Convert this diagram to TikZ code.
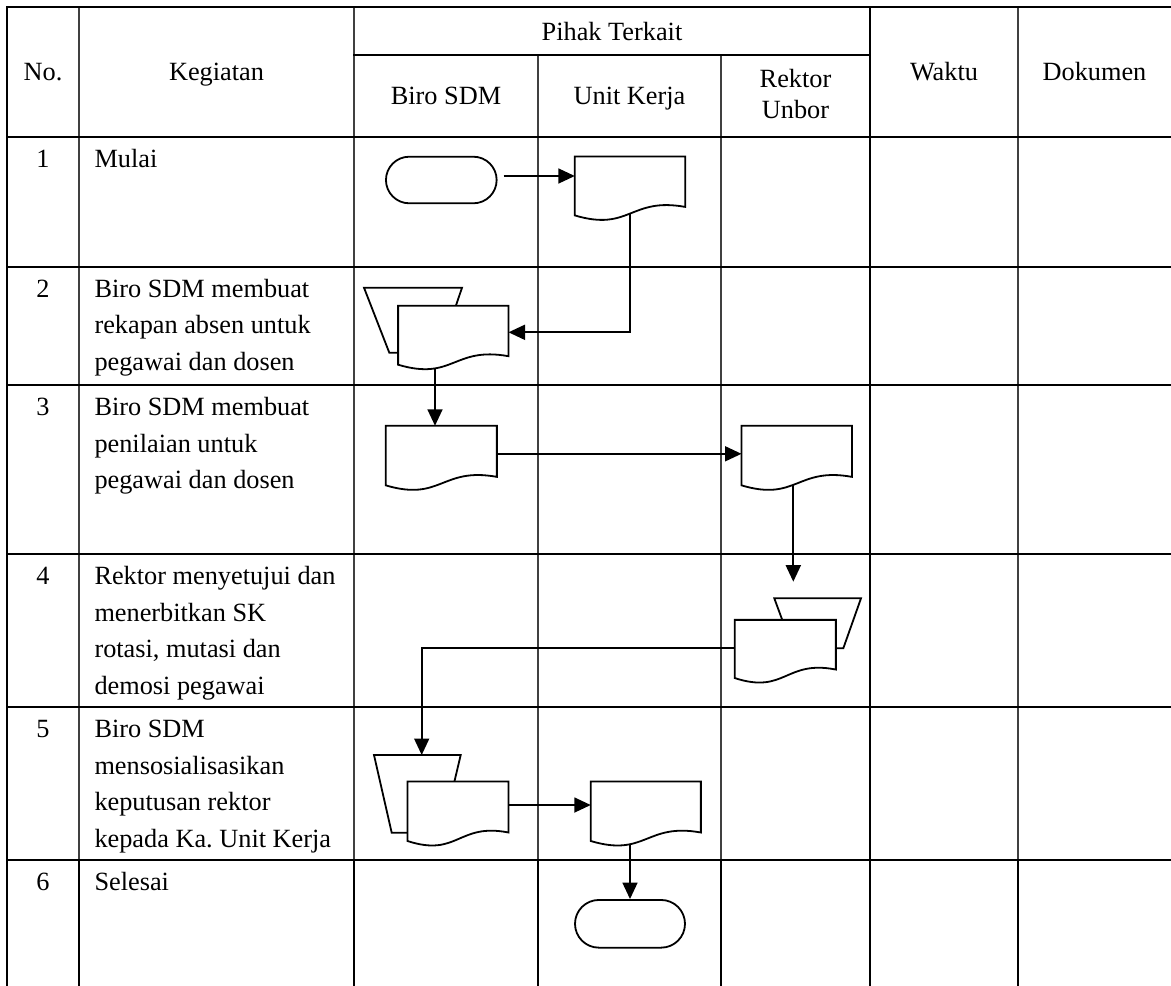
\documentclass[tikz,border=0pt]{standalone}
\usepackage{fontspec}
\setmainfont{Liberation Serif}
\usetikzlibrary{arrows.meta,shapes.misc,calc}
\frenchspacing
\tikzset{
  hline/.style={line width=2.2pt, black, line cap=rect},
  vthin/.style={line width=1.3pt, black!75},
  vthick/.style={line width=2.2pt, black, line cap=rect},
  txt/.style={font=\fontsize{26.3}{31.6}\selectfont, inner sep=0pt, anchor=base west},
  ctxt/.style={font=\fontsize{26.3}{31.6}\selectfont, inner sep=0pt, anchor=base},
  term/.style={rounded rectangle, draw, fill=white, line width=1.8pt, inner sep=0pt},
  docnode/.style={rectangle, inner sep=0pt, draw=none},
  shp/.style={draw, fill=white, line width=1.8pt, line join=miter},
  arr/.style={line width=1.8pt, -{Triangle[length=16.5pt,width=15pt]}},
}
\newcommand{\docshape}[1]{%
  \draw[shp] (#1.north west) -- (#1.north east) -- (#1.south east)
    .. controls ($(#1.south)+(0,-10)$) and ($(#1.south)+(0,25)$) ..
    ($(#1.south west)+(0,8.5)$) -- cycle;}
\begin{document}
\begin{tikzpicture}[x=1pt,y=-1pt]
\useasboundingbox (0,0) rectangle (1171,986);
% ---------- table grid ----------
\foreach \x in {79,354,1018} \draw[vthin] (\x,7.3) -- (\x,860);
\foreach \x in {538,721} \draw[vthin] (\x,55) -- (\x,860);
\foreach \x in {79,354,538,721,1018} \draw[vthick] (\x,860) -- (\x,986);
\draw[vthick] (7,7.3) -- (7,986);
\draw[vthick] (870,7.3) -- (870,986);
\foreach \y in {7.3,137,266.7,385,554,707,860} \draw[hline] (7,\y) -- (1171,\y);
\draw[hline] (354,55) -- (870,55);
% ---------- header ----------
\node[ctxt] (hno) at (43,80.5) {No.};
\node[ctxt] (hkeg) at (216.5,80.5) {Kegiatan};
\node[ctxt] (hpihak) at (612,40) {Pihak Terkait};
\node[ctxt] (hbiro) at (446,104) {Biro SDM};
\node[ctxt] (hunit) at (629.5,104) {Unit Kerja};
\node[ctxt] (hrek) at (795.5,87.5) {Rektor};
\node[ctxt] (hunb) at (795.5,118.5) {Unbor};
\node[ctxt] (hwak) at (944,80.5) {Waktu};
\node[ctxt] (hdok) at (1094.5,80.5) {Dokumen};
% ---------- rows ----------
\node[ctxt] (n1) at (43,167.5) {1};
\node[txt] (k1a) at (94.3,167.5) {Mulai};
\node[ctxt] (n2) at (43,297.2) {2};
\node[txt] (k2a) at (94.3,297.2) {Biro SDM membuat};
\node[txt] (k2b) at (94.3,333.9) {rekapan absen untuk};
\node[txt] (k2c) at (94.3,370.6) {pegawai dan dosen};
\node[ctxt] (n3) at (43,415.5) {3};
\node[txt] (k3a) at (94.3,415.5) {Biro SDM membuat};
\node[txt] (k3b) at (94.3,452.2) {penilaian untuk};
\node[txt] (k3c) at (94.3,488.9) {pegawai dan dosen};
\node[ctxt] (n4) at (43,584.5) {4};
\node[txt] (k4a) at (94.3,584.5) {Rektor menyetujui dan};
\node[txt] (k4b) at (94.3,621.2) {menerbitkan SK};
\node[txt] (k4c) at (94.3,657.9) {rotasi, mutasi dan};
\node[txt] (k4d) at (94.3,694.6) {demosi pegawai};
\node[ctxt] (n5) at (43,737.5) {5};
\node[txt] (k5a) at (94.3,737.5) {Biro SDM};
\node[txt] (k5b) at (94.3,774.2) {mensosialisasikan};
\node[txt] (k5c) at (94.3,810.9) {keputusan rektor};
\node[txt] (k5d) at (94.3,847.6) {kepada Ka. Unit Kerja};
\node[ctxt] (n6) at (43,890.5) {6};
\node[txt] (k6a) at (94.3,890.5) {Selesai};
% ---------- flowchart nodes (positions) ----------
\node[term, minimum width=110.7pt, minimum height=46.6pt] (s1) at (441.3,180) {};
\node[term, minimum width=110pt, minimum height=47.7pt] (e1) at (630,923.8) {};
\node[docnode, minimum width=110pt, minimum height=50pt] (d1) at (630,181.7) {};
\node[docnode, minimum width=110pt, minimum height=50pt] (d2) at (453.3,331) {};
\node[docnode, minimum width=110.7pt, minimum height=50.7pt] (d3) at (441.3,451.3) {};
\node[docnode, minimum width=110pt, minimum height=50.7pt] (d4) at (796.7,451.3) {};
\node[docnode, minimum width=100.7pt, minimum height=49.3pt] (d5) at (785.3,644.7) {};
\node[docnode, minimum width=100.6pt, minimum height=50.6pt] (d6) at (458,807) {};
\node[docnode, minimum width=109.7pt, minimum height=50.6pt] (d7) at (645.8,807) {};
\coordinate (p5) at (793.3,581.7);
\coordinate (t5) at (421.7,755);
% ---------- connectors ----------
\draw[arr] ([xshift=6pt,yshift=4pt]s1.east) -- ([yshift=5.7pt]d1.west);
\draw[arr] (d1.center) |- ([yshift=-1.3pt]d2.east);
\draw[arr] ([xshift=-18.3pt]d2.center) -- ([xshift=-6.3pt]d3.north);
\draw[arr] ([yshift=-2.5pt]d3.east) -- ([yshift=-2.5pt]d4.west);
\draw[arr] ([xshift=-3.4pt]d4.center) -- (p5);
\draw[arr] ([yshift=-3.6pt]d5.west) -| (t5);
\draw[arr] ([yshift=2pt]d6.east) -- ([yshift=2pt]d7.west);
\draw[arr] (d7.center -| e1.north) -- (e1.north);
% ---------- shapes ----------
\draw[shp] (364,287.7) -- (462,287.7) -- (440,352.7) -- (389.3,352.7) -- cycle;
\draw[shp] (774.3,598.3) -- (861,598.3) -- (843.3,648.3) -- (792.7,648.3) -- cycle;
\draw[shp] (374,755) -- (460.7,755) -- (442.3,832.7) -- (391.7,832.7) -- cycle;
\docshape{d1}
\docshape{d2}
\docshape{d3}
\docshape{d4}
\docshape{d5}
\docshape{d6}
\docshape{d7}
\end{tikzpicture}
\end{document}
